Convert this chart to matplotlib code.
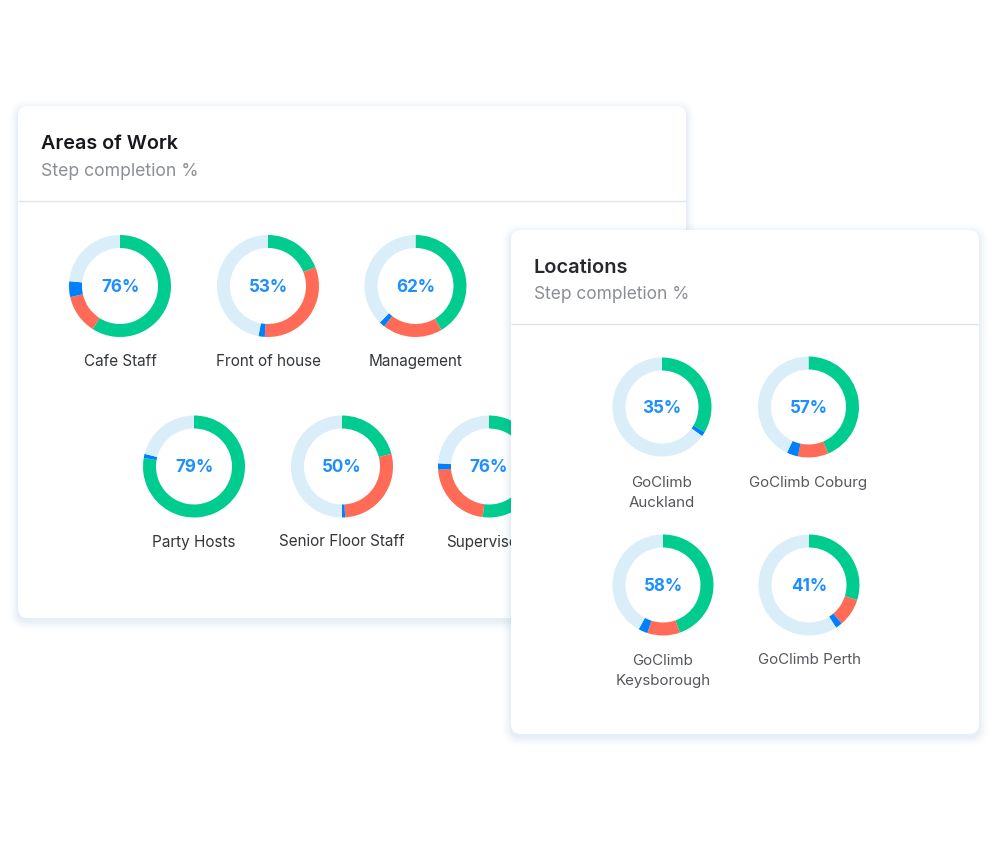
import matplotlib
matplotlib.use("Agg")
import matplotlib.pyplot as plt
from matplotlib.patches import FancyBboxPatch

plt.rcParams['font.family'] = ['Inter', 'DejaVu Sans']

# Values: share of each ring, clockwise from 12 o'clock
work_names = ["Cafe Staff", "Front of house", "Management",
              "Party Hosts", "Senior Floor Staff", "Supervisors"]
work_pct = [76, 53, 62, 79, 50, 76]
work_green = [59, 19, 41.5, 77.7, 21, 52]
work_red = [12.5, 32, 19, 0, 28, 22]
work_blue = [5, 2, 1.8, 1.3, 1, 2]

loc_names = ["GoClimb\nAuckland", "GoClimb Coburg",
             "GoClimb\nKeysborough", "GoClimb Perth"]
loc_pct = [35, 57, 58, 41]
loc_green = [33.5, 43.6, 44.6, 29.8]
loc_red = [0, 9.8, 10.4, 9]
loc_blue = [1.5, 3.6, 3, 2.2]

# Layout in reference pixels
W, H = 1000, 844
work_xy = [(120, 286), (268, 286), (415.5, 286), (194, 466.5), (342, 466.5), (489, 466.5)]
loc_xy = [(662, 407), (808.5, 407), (663, 585), (809, 585)]
loc_r = [49.5, 50.5, 50.5, 50.5]
work_label_y = [361.5, 361.5, 361.5, 542, 542, 542]
loc_label_y = [493, 482.5, 671, 659.5]

GREEN, RED, BLUE, PALE = "#00cc8f", "#ff6b57", "#0080ff", "#d9eef9"
colors = [GREEN, RED, BLUE, PALE]

fig = plt.figure(figsize=(W / 100, H / 100), dpi=100, facecolor="white")


def overlay(z):
    ax = fig.add_axes([0, 0, 1, 1], zorder=z)
    ax.set_xlim(0, W)
    ax.set_ylim(H, 0)
    ax.axis("off")
    ax.patch.set_alpha(0)
    return ax


def card(ax, x0, y0, x1, y1, divider, title, tx, ty, sy, title_size, title_color, sub_size):
    for grow, a in [(9, .010), (7, .014), (5, .018), (3, .024), (1.5, .032)]:
        ax.add_patch(FancyBboxPatch((x0 - grow, y0 - grow + 3), x1 - x0 + 2 * grow,
                                    y1 - y0 + 2 * grow,
                                    boxstyle=f"round,pad=0,rounding_size={10 + grow}",
                                    fc="#2f6fb0", ec="none", alpha=a))
    ax.add_patch(FancyBboxPatch((x0, y0), x1 - x0, y1 - y0,
                                boxstyle="round,pad=0,rounding_size=10",
                                fc="white", ec="none"))
    ax.plot([x0, x1], [divider, divider], color="#dfe2e6", lw=1.0, solid_capstyle="butt")
    ax.text(tx, ty, title, fontsize=title_size, fontweight=600, color=title_color,
            va="center", ha="left")
    ax.text(tx, sy, "Step completion %", fontsize=sub_size, color="#8b8f94", va="center", ha="left")


def donut(cx, cy, r, width, g, rd, b, pct, z):
    ax = fig.add_axes([(cx - r - 1) / W, 1 - (cy + r + 1) / H,
                       (2 * r + 2) / W, (2 * r + 2) / H], zorder=z)
    ax.pie([g, rd, b, 100 - g - rd - b], colors=colors, startangle=90, counterclock=False,
           radius=1, wedgeprops=dict(width=width / r, linewidth=0))
    lim = (r + 1) / r
    ax.set_xlim(-lim, lim)
    ax.set_ylim(-lim, lim)
    ax.patch.set_alpha(0)
    ax.text(0, 0.01, f"{pct}%", fontsize=12.3, fontweight=700, color="#1e8fff",
            ha="center", va="center_baseline")


# Back card: Areas of Work
back = overlay(0)
card(back, 18, 106, 686, 618, 201, "Areas of Work", 41, 144, 171.5, 14.2, "#16181c", 12.7)
for i, name in enumerate(work_names):
    cx, cy = work_xy[i]
    donut(cx, cy, 51, 13, work_green[i], work_red[i], work_blue[i], work_pct[i], 1)
    back.text(cx, work_label_y[i], name, fontsize=11.0, color="#33363a", ha="center", va="center")

# Front card: Locations
front = overlay(2)
card(front, 511, 230, 979, 734, 323.5, "Locations", 533.5, 268, 294.5, 14.4, "#26282c", 12.5)
for i, name in enumerate(loc_names):
    cx, cy = loc_xy[i]
    donut(cx, cy, loc_r[i], 13, loc_green[i], loc_red[i], loc_blue[i], loc_pct[i], 3)
    front.text(cx, loc_label_y[i], name, fontsize=10.9, color="#55585c", ha="center", va="center",
               linespacing=1.6)

fig.savefig("out.png", dpi=100, facecolor="white")
